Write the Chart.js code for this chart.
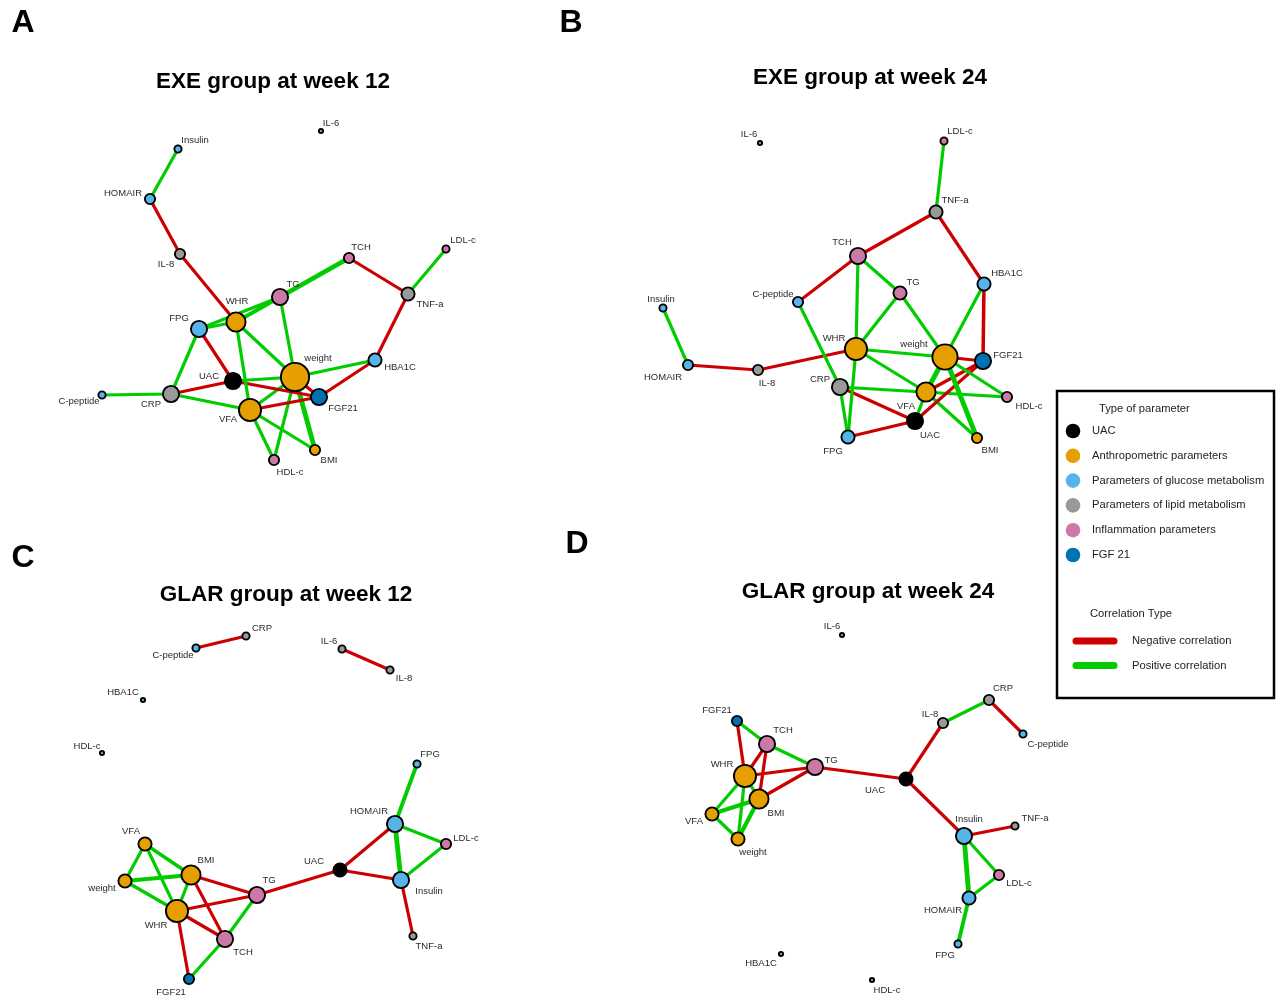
<!DOCTYPE html>
<html>
<head>
<meta charset="utf-8">
<script src="https://cdn.jsdelivr.net/npm/chart.js@4.4.1/dist/chart.umd.min.js"></script>
<style>
  html, body { margin: 0; padding: 0; background: #fff; }
  #net { display: block; }
</style>
</head>
<body>
<canvas id="net" width="1283" height="998"></canvas>
<script>
// parameter types, as in the legend
const typeNames = ['UAC', 'Anthropometric parameters', 'Parameters of glucose metabolism',
  'Parameters of lipid metabolism', 'Inflammation parameters', 'FGF 21'];
const typeColours = ['#000000', '#E69F00', '#56B4E9', '#999999', '#CC79A7', '#0072B2'];
const nodeType = {
  'UAC': 0,
  'weight': 1, 'BMI': 1, 'WHR': 1, 'VFA': 1,
  'Insulin': 2, 'HOMAIR': 2, 'FPG': 2, 'HBA1C': 2, 'C-peptide': 2,
  'IL-6': 3, 'IL-8': 3, 'CRP': 3, 'TNF-a': 3,
  'TCH': 4, 'TG': 4, 'LDL-c': 4, 'HDL-c': 4,
  'FGF21': 5
};
const corrNames = ['Negative correlation', 'Positive correlation'];
const NEG = '#CC0000';
const POS = '#00CC00';

// A: EXE group at week 12
const exe12Nodes = ['IL-6','Insulin','HOMAIR','IL-8','TCH','LDL-c','TNF-a','TG','WHR','FPG','weight','HBA1C','UAC','FGF21','CRP','C-peptide','VFA','BMI','HDL-c'];
const exe12X = [321,178,150,180,349,446,408,280,236,199,295,375,233,319,171,102,250,315,274];
const exe12Y = [131,149,199,254,258,249,294,297,322,329,377,360,381,397,394,395,410,450,460];
const exe12Edges = [
  ['Insulin','HOMAIR',0.5], ['HOMAIR','IL-8',-0.5], ['IL-8','WHR',-0.5], ['TCH','TG',0.75],
  ['TCH','TNF-a',-0.5], ['LDL-c','TNF-a',0.5], ['TNF-a','HBA1C',-0.5], ['HBA1C','FGF21',-0.5],
  ['HBA1C','weight',0.5], ['TG','WHR',0.6], ['TG','FPG',0.5], ['WHR','FPG',0.5],
  ['TG','weight',0.5], ['WHR','weight',0.5], ['WHR','VFA',0.5], ['FPG','UAC',-0.5],
  ['FPG','CRP',0.5], ['UAC','weight',0.5], ['UAC','FGF21',-0.5], ['UAC','CRP',-0.5],
  ['CRP','C-peptide',0.5], ['CRP','VFA',0.5], ['VFA','FGF21',-0.5], ['VFA','weight',0.5],
  ['VFA','BMI',0.5], ['VFA','HDL-c',0.5], ['weight','BMI',0.75], ['weight','HDL-c',0.5],
  ['weight','FGF21',-0.5]
];

// B: EXE group at week 24
const exe24Nodes = ['IL-6','LDL-c','TNF-a','TCH','TG','HBA1C','C-peptide','Insulin','WHR','weight','FGF21','HOMAIR','IL-8','CRP','VFA','HDL-c','UAC','FPG','BMI'];
const exe24X = [760,944,936,858,900,984,798,663,856,945,983,688,758,840,926,1007,915,848,977];
const exe24Y = [143,141,212,256,293,284,302,308,349,357,361,365,370,387,392,397,421,437,438];
const exe24Edges = [
  ['LDL-c','TNF-a',0.5], ['TNF-a','TCH',-0.5], ['TNF-a','HBA1C',-0.5], ['TCH','C-peptide',-0.5],
  ['TCH','WHR',0.5], ['TCH','TG',0.5], ['TG','WHR',0.5], ['TG','weight',0.5],
  ['HBA1C','weight',0.5], ['HBA1C','FGF21',-0.55], ['C-peptide','CRP',0.5], ['CRP','FPG',0.5],
  ['Insulin','HOMAIR',0.5], ['HOMAIR','IL-8',-0.5], ['IL-8','WHR',-0.5], ['WHR','weight',0.5],
  ['WHR','VFA',0.5], ['WHR','FPG',0.5], ['weight','FGF21',-0.5], ['weight','VFA',0.75],
  ['weight','BMI',0.75], ['weight','HDL-c',0.5], ['FGF21','VFA',-0.5], ['FGF21','UAC',-0.5],
  ['CRP','HDL-c',0.5], ['CRP','UAC',-0.5], ['UAC','FPG',-0.5], ['UAC','VFA',0.5],
  ['VFA','BMI',0.5]
];

// C: GLAR group at week 12
const glar12Nodes = ['CRP','C-peptide','IL-6','IL-8','HBA1C','HDL-c','FPG','HOMAIR','LDL-c','VFA','UAC','BMI','weight','Insulin','TG','WHR','TCH','TNF-a','FGF21'];
const glar12X = [246,196,342,390,143,102,417,395,446,145,340,191,125,401,257,177,225,413,189];
const glar12Y = [636,648,649,670,700,753,764,824,844,844,870,875,881,880,895,911,939,936,979];
const glar12Edges = [
  ['C-peptide','CRP',-0.5], ['IL-6','IL-8',-0.5], ['FPG','HOMAIR',0.6], ['HOMAIR','LDL-c',0.5],
  ['HOMAIR','Insulin',0.75], ['LDL-c','Insulin',0.5], ['HOMAIR','UAC',-0.5], ['UAC','Insulin',-0.5],
  ['Insulin','TNF-a',-0.5], ['UAC','TG',-0.5], ['VFA','weight',0.5], ['VFA','BMI',0.55],
  ['VFA','WHR',0.5], ['weight','BMI',0.65], ['weight','WHR',0.5], ['BMI','WHR',0.5],
  ['BMI','TG',-0.5], ['BMI','TCH',-0.5], ['WHR','TG',-0.5], ['WHR','TCH',-0.5],
  ['WHR','FGF21',-0.5], ['TG','TCH',0.5], ['TCH','FGF21',0.5]
];

// D: GLAR group at week 24
const glar24Nodes = ['IL-6','CRP','IL-8','C-peptide','FGF21','TCH','TG','WHR','UAC','BMI','VFA','weight','Insulin','TNF-a','LDL-c','HOMAIR','FPG','HBA1C','HDL-c'];
const glar24X = [842,989,943,1023,737,767,815,745,906,759,712,738,964,1015,999,969,958,781,872];
const glar24Y = [635,700,723,734,721,744,767,776,779,799,814,839,836,826,875,898,944,954,980];
const glar24Edges = [
  ['IL-8','CRP',0.5], ['CRP','C-peptide',-0.5], ['IL-8','UAC',-0.5], ['UAC','TG',-0.5],
  ['UAC','Insulin',-0.5], ['Insulin','TNF-a',-0.5], ['Insulin','LDL-c',0.5], ['Insulin','HOMAIR',0.75],
  ['LDL-c','HOMAIR',0.5], ['HOMAIR','FPG',0.6], ['FGF21','TCH',0.5], ['FGF21','WHR',-0.5],
  ['TCH','TG',0.5], ['TCH','WHR',-0.5], ['TCH','BMI',-0.5], ['WHR','TG',-0.5],
  ['BMI','TG',-0.5], ['WHR','VFA',0.5], ['WHR','weight',0.5], ['WHR','BMI',0.5],
  ['VFA','BMI',0.65], ['VFA','weight',0.5], ['BMI','weight',0.65]
];

const titles = ['EXE group at week 12', 'EXE group at week 24', 'GLAR group at week 12', 'GLAR group at week 24'];
const letters = ['A', 'B', 'C', 'D'];

// label placement (pixels from the node centre)
const exe12Shift = {'IL-6':[10,-8],'Insulin':[17,-9],'HOMAIR':[-27,-6],'IL-8':[-14,10],'TCH':[12,-11],'LDL-c':[17,-9],'TNF-a':[22,10],'TG':[13,-13],'WHR':[1,-21],'FPG':[-20,-11],'weight':[23,-19],'HBA1C':[25,7],'UAC':[-24,-5],'FGF21':[24,11],'CRP':[-20,10],'C-peptide':[-23,6],'VFA':[-22,9],'BMI':[14,10],'HDL-c':[16,12]};
const exe24Shift = {'IL-6':[-11,-9],'LDL-c':[16,-10],'TNF-a':[19,-12],'TCH':[-16,-14],'TG':[13,-11],'HBA1C':[23,-11],'C-peptide':[-25,-8],'Insulin':[-2,-9],'WHR':[-22,-11],'weight':[-31,-13],'FGF21':[25,-6],'HOMAIR':[-25,12],'IL-8':[9,13],'CRP':[-20,-8],'VFA':[-20,14],'HDL-c':[22,9],'UAC':[15,14],'FPG':[-15,14],'BMI':[13,12]};
const glar12Shift = {'CRP':[16,-8],'C-peptide':[-23,7],'IL-6':[-13,-8],'IL-8':[14,8],'HBA1C':[-20,-8],'HDL-c':[-15,-7],'FPG':[13,-10],'HOMAIR':[-26,-13],'LDL-c':[20,-6],'VFA':[-14,-13],'UAC':[-26,-9],'BMI':[15,-15],'weight':[-23,7],'Insulin':[28,11],'TG':[12,-15],'WHR':[-21,14],'TCH':[18,13],'TNF-a':[16,10],'FGF21':[-18,13]};
const glar24Shift = {'IL-6':[-10,-9],'CRP':[14,-12],'IL-8':[-13,-9],'C-peptide':[25,10],'FGF21':[-20,-11],'TCH':[16,-14],'TG':[16,-7],'WHR':[-23,-12],'UAC':[-31,11],'BMI':[17,14],'VFA':[-18,7],'weight':[15,13],'Insulin':[5,-17],'TNF-a':[20,-8],'LDL-c':[20,8],'HOMAIR':[-26,12],'FPG':[-13,11],'HBA1C':[-20,9],'HDL-c':[15,10]};

const panels = [
  { nodes: exe12Nodes, x: exe12X, y: exe12Y, edges: exe12Edges, shift: exe12Shift, title: [273, 82], letter: [23, 23] },
  { nodes: exe24Nodes, x: exe24X, y: exe24Y, edges: exe24Edges, shift: exe24Shift, title: [870, 78], letter: [571, 23] },
  { nodes: glar12Nodes, x: glar12X, y: glar12Y, edges: glar12Edges, shift: glar12Shift, title: [286, 595], letter: [23, 558] },
  { nodes: glar24Nodes, x: glar24X, y: glar24Y, edges: glar24Edges, shift: glar24Shift, title: [868, 592], letter: [577, 544] }
];

const FONT = "'Liberation Sans', Arial, sans-serif";
const datasets = [];
panels.forEach((p, k) => 
{
  const pos = {};
  const degree = {};
  p.nodes.forEach((n, i) => { pos[n] = { x: p.x[i], y: p.y[i] }; degree[n] = 0; });
  p.edges.forEach(([a, b, r]) => 
  {
    degree[a]++;
    degree[b]++;
    datasets.push({
      type: 'line',
      data: [pos[a], pos[b]],
      borderColor: r < 0 ? NEG : POS,
      borderWidth: Math.abs(r) * 6.4,
      pointRadius: 0,
      fill: false,
      tension: 0,
      order: 2
    });
  });
  datasets.push({
    type: 'scatter',
    panel: k,
    data: p.nodes.map(n => ({ x: pos[n].x, y: pos[n].y, name: n })),
    pointRadius: p.nodes.map(n => 2.1 + 1.5 * degree[n]),
    pointHoverRadius: p.nodes.map(n => 2.1 + 1.5 * degree[n]),
    pointBackgroundColor: p.nodes.map(n => typeColours[nodeType[n]]),
    pointBorderColor: '#000000',
    pointBorderWidth: 1.9,
    order: 1
  });
});

const networkText = 
{
  id: 'networkText',
  afterDatasetsDraw(chart) 
  {
    const ctx = chart.ctx;
    ctx.save();
    ctx.textAlign = 'center';
    ctx.textBaseline = 'middle';
    ctx.fillStyle = '#2a2a2a';
    ctx.font = '9.5px ' + FONT;
    chart.data.datasets.forEach((ds, i) => 
    {
      if (ds.panel === undefined) return;
      const shift = panels[ds.panel].shift;
      chart.getDatasetMeta(i).data.forEach((pt, j) => 
      {
        const name = ds.data[j].name;
        const s = shift[name] || [0, -12];
        ctx.fillText(name, pt.x + s[0], pt.y + s[1]);
      });
    });

    // titles and panel letters
    ctx.fillStyle = '#000000';
    panels.forEach((p, k) => 
    {
      ctx.font = 'bold 22.5px ' + FONT;
      ctx.fillText(titles[k], p.title[0], p.title[1]);
      ctx.font = 'bold 32px ' + FONT;
      ctx.fillText(letters[k], p.letter[0], p.letter[1]);
    });

    // legend box
    ctx.fillStyle = '#ffffff';
    ctx.fillRect(1057, 391, 217, 307);
    ctx.lineWidth = 2.5;
    ctx.strokeStyle = '#000000';
    ctx.strokeRect(1057, 391, 217, 307);
    ctx.textAlign = 'left';
    ctx.font = '11.2px ' + FONT;
    ctx.fillStyle = '#222222';
    ctx.fillText('Type of parameter', 1099, 409);
    typeNames.forEach((t, i) => 
    {
      const y = 431 + i * 24.8;
      ctx.beginPath();
      ctx.arc(1073, y, 7.3, 0, Math.PI * 2);
      ctx.fillStyle = typeColours[i];
      ctx.fill();
      ctx.fillStyle = '#222222';
      ctx.fillText(t, 1092, y);
    });
    ctx.fillText('Correlation Type', 1090, 614);
    corrNames.forEach((t, i) => 
    {
      const y = 641 + i * 24.5;
      ctx.beginPath();
      ctx.lineCap = 'round';
      ctx.lineWidth = 7;
      ctx.strokeStyle = i === 0 ? NEG : POS;
      ctx.moveTo(1076, y);
      ctx.lineTo(1114, y);
      ctx.stroke();
      ctx.fillStyle = '#222222';
      ctx.fillText(t, 1132, y);
    });
    ctx.restore();
  }
};

new Chart(document.getElementById('net').getContext('2d'),
{
  type: 'scatter',
  data: { datasets: datasets },
  options: 
  {
    responsive: false,
    animation: false,
    devicePixelRatio: 1,
    layout: { padding: 0, autoPadding: false },
    events: [],
    plugins: 
    {
      legend: { display: false },
      title: { display: false },
      tooltip: { enabled: false }
    },
    scales: 
    {
      x: { type: 'linear', min: 0, max: 1283, display: false },
      y: { type: 'linear', min: 0, max: 998, reverse: true, display: false }
    }
  },
  plugins: [networkText]
});
</script>
</body>
</html>
